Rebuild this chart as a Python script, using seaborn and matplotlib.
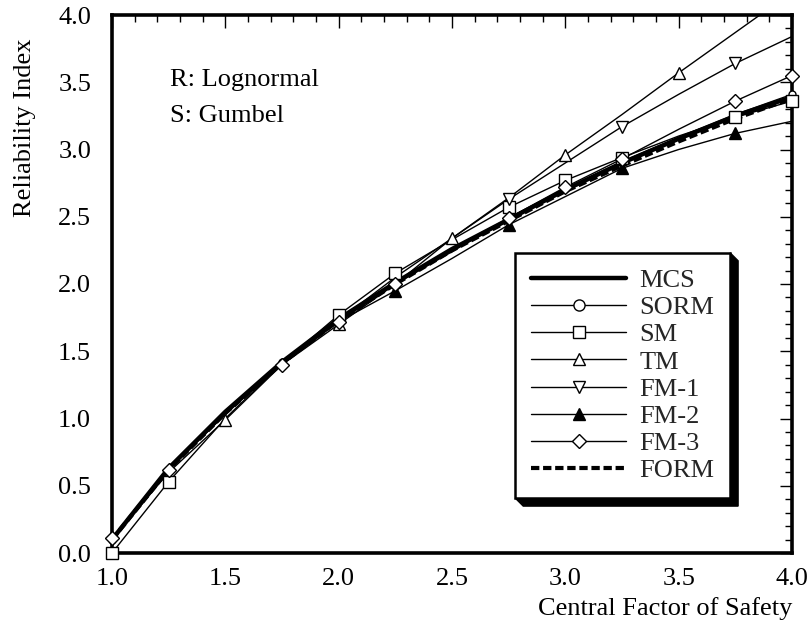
import matplotlib
matplotlib.use("Agg")
import matplotlib.pyplot as plt
import seaborn as sns
import pandas as pd
from matplotlib.lines import Line2D
from matplotlib.patches import Polygon
from matplotlib.ticker import MultipleLocator

# ---------------- data ----------------
fs = [1.0, 1.25, 1.5, 1.75, 2.0, 2.25, 2.5, 2.75, 3.0, 3.25, 3.5, 3.75, 4.0]
mcs  = [0.10, 0.63, 1.05, 1.42, 1.74, 2.01, 2.26, 2.48, 2.70, 2.90, 3.08, 3.25, 3.39]
sorm = [0.10, 0.62, 1.05, 1.42, 1.74, 2.01, 2.26, 2.49, 2.71, 2.91, 3.09, 3.26, 3.41]
sm   = [0.00, 0.53, 1.00, 1.41, 1.77, 2.08, 2.33, 2.57, 2.77, 2.94, 3.10, 3.24, 3.36]
tm   = [0.10, 0.60, 0.99, 1.40, 1.70, 2.00, 2.34, 2.64, 2.96, 3.26, 3.57, 3.87, 4.17]
fm1  = [0.10, 0.62, 1.03, 1.41, 1.73, 2.05, 2.34, 2.63, 2.90, 3.17, 3.41, 3.64, 3.84]
fm2  = [0.10, 0.63, 1.05, 1.42, 1.72, 1.95, 2.19, 2.44, 2.65, 2.86, 3.00, 3.12, 3.21]
fm3  = [0.11, 0.62, 1.04, 1.40, 1.72, 2.00, 2.24, 2.49, 2.72, 2.93, 3.15, 3.36, 3.55]
form = [0.10, 0.62, 1.04, 1.41, 1.73, 2.00, 2.25, 2.47, 2.69, 2.88, 3.06, 3.23, 3.38]

# indices of the points that carry a marker
sorm_marks = [0, 1, 3, 4, 5, 7, 8, 9, 11, 12]
sm_marks   = [0, 1, 4, 5, 7, 8, 9, 11, 12]
tm_marks   = [2, 4, 6, 8, 10]
fm1_marks  = [7, 9, 11]
fm2_marks  = [5, 7, 9, 11]
fm3_marks  = [0, 1, 3, 4, 5, 7, 8, 9, 11, 12]

x_ticks = [1.0, 1.5, 2.0, 2.5, 3.0, 3.5, 4.0]
y_ticks = [0.0, 0.5, 1.0, 1.5, 2.0, 2.5, 3.0, 3.5, 4.0]

# ---------------- style ----------------
sns.set_theme(style="white")
plt.rcParams["font.family"] = ["Liberation Serif", "DejaVu Serif"]
FS = 19

fig = plt.figure(figsize=(8.1, 6.29), dpi=100)
fig.patch.set_facecolor("white")
ax = fig.add_axes([112 / 810, 1 - 553 / 629, 680 / 810, 538 / 629])
ax.set_facecolor("white")

df = pd.DataFrame({"x": fs, "MCS": mcs, "SORM": sorm, "SM": sm, "TM": tm,
                   "FM-1": fm1, "FM-2": fm2, "FM-3": fm3, "FORM": form})

thin = 1.0
# thick lines
sns.lineplot(data=df, x="x", y="MCS", ax=ax, color="black", lw=3.2,
             errorbar=None, legend=False, zorder=3)
sns.lineplot(data=df, x="x", y="FORM", ax=ax, color="black", lw=3.0,
             linestyle=(0, (2.0, 0.9)), errorbar=None, legend=False, zorder=3)

series = [
    ("SORM", "o", sorm_marks, 5.0),
    ("SM", "s", sm_marks, 8.5),
    ("TM", "^", tm_marks, 9.0),
    ("FM-1", "v", fm1_marks, 9.0),
    ("FM-2", "^", fm2_marks, 9.0),
    ("FM-3", "D", fm3_marks, 7.0),
]
for name, mk, marks, ms in series:
    sns.lineplot(data=df, x="x", y=name, ax=ax, color="black", lw=thin,
                 errorbar=None, legend=False, zorder=4)
for name, mk, marks, ms in series:
    fc = "black" if name == "FM-2" else "white"
    sns.lineplot(data=df, x="x", y=name, ax=ax, color="black", lw=0,
                 linestyle="none", marker=mk, markevery=marks, markersize=ms,
                 markerfacecolor=fc, markeredgecolor="black", markeredgewidth=1.0,
                 errorbar=None, legend=False, zorder=6, clip_on=False)

# ---------------- axes ----------------
ax.set_xlim(1.0, 4.0)
ax.set_ylim(0.0, 4.0)
ax.set_xticks(x_ticks)
ax.set_yticks(y_ticks)
ax.set_xticklabels([f"{v:.1f}" for v in x_ticks])
ax.set_yticklabels([f"{v:.1f}" for v in y_ticks])
ax.xaxis.set_minor_locator(MultipleLocator(0.1))
ax.yaxis.set_minor_locator(MultipleLocator(0.1))
ax.tick_params(which="both", direction="in", top=True, right=True,
               width=1.0, color="black", labelsize=FS, labelcolor="black")
ax.tick_params(which="major", length=9)
ax.tick_params(which="minor", length=5)
ax.tick_params(axis="y", pad=15)
ax.tick_params(axis="x", pad=11)
for sp in ax.spines.values():
    sp.set_linewidth(2.6)
    sp.set_color("black")

ax.set_xlabel("Central Factor of Safety", fontsize=FS, color="black")
ax.xaxis.set_label_coords(1.0, -0.103)
ax.xaxis.label.set_horizontalalignment("right")
ax.xaxis.label.set_verticalalignment("center")
ax.set_ylabel("Reliability Index", fontsize=FS, color="black")
ax.yaxis.set_label_coords(-0.128, 0.79)
ax.yaxis.label.set_verticalalignment("center")

ax.text(0.085, 0.88, "R: Lognormal", transform=ax.transAxes, fontsize=FS,
        va="center", ha="left", color="black")
ax.text(0.085, 0.813, "S: Gumbel", transform=ax.transAxes, fontsize=FS,
        va="center", ha="left", color="black")

# ---------------- legend ----------------
handles = [Line2D([], [], color="black", lw=3.2)]
for name, mk, marks, ms in series:
    fc = "black" if name == "FM-2" else "white"
    handles.append(Line2D([], [], color="black", lw=thin, marker=mk,
                          markersize=(8.0 if name == "SORM" else ms),
                          markerfacecolor=fc, markeredgecolor="black",
                          markeredgewidth=1.0))
handles.append(Line2D([], [], color="black", lw=3.0, linestyle=(0, (2.0, 0.9))))
labels = ["MCS", "SORM", "SM", "TM", "FM-1", "FM-2", "FM-3", "FORM"]
leg = ax.legend(handles, labels, loc="upper left", bbox_to_anchor=(0.593, 0.558),
                borderaxespad=0, fontsize=FS, handlelength=3.6,
                handletextpad=0.5, labelspacing=0.14, borderpad=0.6,
                frameon=True, fancybox=False, framealpha=1, edgecolor="black",
                facecolor="white", markerfirst=True)
leg.get_frame().set_linewidth(1.8)
leg.set_zorder(8)

fig.canvas.draw()
r = fig.canvas.get_renderer()
bb = leg.get_frame().get_window_extent(r)
d = 8
x0, y0, x1, y1 = bb.x0, bb.y0, bb.x1, bb.y1
pts = [(x0, y0), (x0 + d, y0 - d), (x1 + d, y0 - d), (x1 + d, y1 - d), (x1, y1), (x1, y0)]
pts_ax = ax.transAxes.inverted().transform(pts)
ax.add_patch(Polygon(pts_ax, closed=True, transform=ax.transAxes, facecolor="black",
                     edgecolor="black", zorder=7.9, clip_on=False))

fig.savefig("out.png", dpi=100, facecolor="white")
